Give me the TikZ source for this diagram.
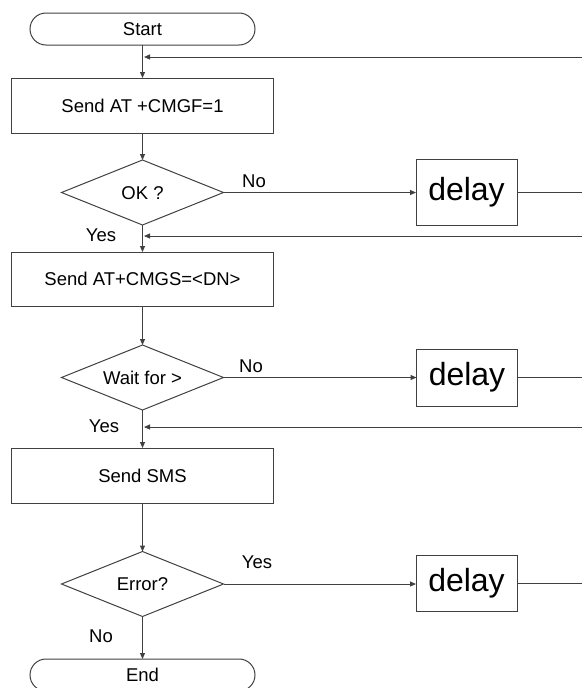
\documentclass[tikz,border=0pt]{standalone}
\usepackage{fontspec}
\setmainfont{Liberation Sans}
\usetikzlibrary{shapes.geometric,arrows.meta}

% text that does not enlarge the shape around it, capitals centred on the anchor
\newcommand{\flattext}[1]{\makebox[0pt]{\raisebox{-0.36em}[0pt][0pt]{#1}}}

\begin{document}
\begin{tikzpicture}[x=1pt,y=-1pt,
  every node/.style={inner sep=0pt, outer sep=0pt, font=\fontsize{18.5}{20}\selectfont},
  ln/.style={draw=black!75, line width=1pt},
  arr/.style={ln, -{Triangle[length=6pt,width=5pt]}},
  terminal/.style={ln, rounded corners=16pt, minimum width=225pt, minimum height=32pt},
  process/.style={ln, minimum width=262pt},
  decision/.style={ln, diamond, minimum width=162pt, minimum height=65pt},
  delaybox/.style={ln, minimum width=101pt, font=\fontsize{32}{34}\selectfont},
  lbl/.style={text=black}
]
\useasboundingbox (0,0) rectangle (582,688);

% main column
\node[terminal] (start) at (142.5,29) {Start};
\node[process, minimum height=55pt] (b1) at (142.5,105.5) {Send AT +CMGF=1};
\node[decision] (d1) at (142.5,192.5) {\flattext{OK ?}};
\node[process, minimum height=54pt] (b2) at (142.5,279) {Send AT+CMGS=<DN>};
\node[decision] (d2) at (142.5,377.5) {\flattext{Wait for >}};
\node[process, minimum height=55pt] (b3) at (142.5,475.5) {Send SMS};
\node[decision] (d3) at (142.5,584) {\flattext{Error?}};
\node[terminal] (end) at (142.5,675) {End};

% delay boxes
\node[delaybox, minimum height=66pt] (w1) at (466.5,192) {delay};
\node[delaybox, minimum height=57pt] (w2) at (467,377.5) {delay};
\node[delaybox, minimum height=56pt] (w3) at (466.5,583) {delay};

% loop-back points on the right edge and where they rejoin the column
\coordinate (o1) at (582,192);
\coordinate (o2) at (582,377.5);
\coordinate (o3) at (582,583);
\coordinate (r1) at (582,57);
\coordinate (r2) at (582,236);
\coordinate (r3) at (582,427);
\coordinate (j1) at (144,57);
\coordinate (j2) at (144,236);
\coordinate (j3) at (144,427);

% downward flow
\draw[arr] (start) -- (b1);
\draw[arr] (b1) -- (d1);
\draw[arr] (d1) -- (b2);
\draw[arr] (b2) -- (d2);
\draw[arr] (d2) -- (b3);
\draw[arr] (b3) -- (d3);
\draw[arr] (d3) -- (end);

% branches to the delays
\draw[arr] (d1.east) -- (w1.west |- d1.east);
\draw[arr] (d2.east) -- (w2.west |- d2.east);
\draw[arr] (d3.east) -- (w3.west |- d3.east);
\draw[ln] (w1.east) -- (o1);
\draw[ln] (w2.east) -- (o2);
\draw[ln] (w3.east) -- (o3);

% returning lines
\draw[arr] (r1) -- (j1);
\draw[arr] (r2) -- (j2);
\draw[arr] (r3) -- (j3);

% branch labels
\node[lbl] (n1) at (254,181) {No};
\node[lbl] (y1) at (101,235) {Yes};
\node[lbl] (n2) at (251,366) {No};
\node[lbl] (y2) at (104,426) {Yes};
\node[lbl] (y3) at (257,562) {Yes};
\node[lbl] (n3) at (101,636) {No};
\end{tikzpicture}
\end{document}
